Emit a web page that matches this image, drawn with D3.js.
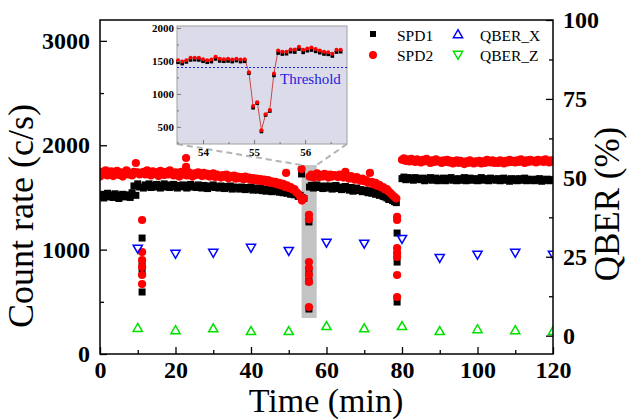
<!DOCTYPE html>
<html>
<head>
<meta charset="utf-8">
<script src="https://cdnjs.cloudflare.com/ajax/libs/d3/7.8.5/d3.min.js"></script>
<style>
  body { margin: 0; background: #fff; }
  svg text { font-family: "Liberation Serif", "Times New Roman", Times, "DejaVu Serif", "Noto Serif", serif !important; }
</style>
</head>
<body>
<script>
// count rate bands, sampled every half minute, one array per run segment
var bandStep = 0.5
var segStart = [0, 11.5, 55.5, 80]

var spd1Seg0 = [1510, 1530, 1495, 1520, 1540, 1505, 1525, 1500, 1535, 1515,
  1490, 1520, 1530, 1505, 1515, 1525, 1500, 1545, 1610, 1520, 1630, 1600]
var spd2Seg0 = [1700, 1745, 1720, 1760, 1710, 1735, 1750, 1705, 1730, 1755,
  1715, 1740, 1700, 1725, 1760, 1720, 1735, 1710, 1745, 1830, 1740, 1720]

var spd1Seg1 = [1590, 1620, 1605, 1630, 1595, 1615, 1600, 1625, 1610, 1590,
  1615, 1630, 1600, 1620, 1595, 1610, 1625, 1605, 1590, 1615,
  1605, 1620, 1600, 1590, 1615, 1625, 1600, 1610, 1595, 1620,
  1600, 1590, 1615, 1605, 1585, 1610, 1600, 1620, 1595, 1605,
  1590, 1610, 1600, 1585, 1605, 1595, 1610, 1580, 1600, 1590,
  1595, 1580, 1600, 1590, 1575, 1595, 1585, 1600, 1570, 1590,
  1580, 1570, 1590, 1565, 1580, 1560, 1575, 1585, 1555, 1570,
  1560, 1575, 1550, 1565, 1545, 1560, 1540, 1550, 1530, 1545,
  1525, 1535, 1510, 1520, 1500, 1490]
var spd2Seg1 = [1745, 1720, 1760, 1735, 1710, 1750, 1725, 1740, 1705, 1755,
  1730, 1715, 1745, 1720, 1760, 1735, 1710, 1740, 1725, 1700,
  1745, 1720, 1735, 1710, 1740, 1725, 1700, 1730, 1715, 1740,
  1720, 1705, 1735, 1710, 1725, 1700, 1715, 1730, 1695, 1720,
  1705, 1690, 1715, 1700, 1720, 1685, 1705, 1695, 1710, 1680,
  1700, 1685, 1695, 1675, 1700, 1680, 1690, 1670, 1685, 1665,
  1680, 1660, 1675, 1655, 1670, 1650, 1665, 1640, 1655, 1635,
  1650, 1625, 1640, 1615, 1630, 1600, 1615, 1590, 1600, 1575,
  1580, 1550, 1535, 1510, 1470, 1490]

var spd1Seg2 = [1600, 1615, 1590, 1610, 1620, 1595, 1605, 1585, 1610, 1600,
  1590, 1610, 1580, 1600, 1615, 1585, 1600, 1575, 1595, 1605,
  1585, 1570, 1595, 1560, 1580, 1590, 1565, 1575, 1555, 1570,
  1560, 1545, 1565, 1540, 1555, 1530, 1545, 1520, 1535, 1510,
  1505, 1495, 1480, 1490, 1470, 1460, 1450]
var spd2Seg2 = [1700, 1720, 1690, 1710, 1730, 1695, 1715, 1700, 1725, 1705,
  1690, 1720, 1700, 1715, 1710, 1695, 1720, 1700, 1690, 1745,
  1695, 1680, 1705, 1685, 1670, 1695, 1675, 1660, 1680, 1655,
  1665, 1640, 1735, 1650, 1625, 1640, 1610, 1620, 1595, 1600,
  1575, 1580, 1555, 1540, 1520, 1505, 1490]

var spd1Seg3 = [1680, 1695, 1670, 1690, 1675, 1685, 1665, 1690, 1675, 1680,
  1670, 1685, 1660, 1680, 1670, 1690, 1665, 1675, 1685, 1660,
  1675, 1665, 1685, 1660, 1680, 1670, 1690, 1665, 1675, 1660,
  1680, 1665, 1670, 1690, 1660, 1675, 1685, 1665, 1670, 1680,
  1660, 1675, 1690, 1665, 1680, 1670, 1660, 1685, 1670, 1675,
  1665, 1680, 1660, 1675, 1685, 1665, 1670, 1655, 1680, 1665,
  1675, 1660, 1680, 1665, 1670, 1685, 1660, 1675, 1665, 1670,
  1660, 1675, 1665, 1680, 1655, 1670, 1665, 1675, 1660, 1670,
  1665]
var spd2Seg3 = [1860, 1875, 1850, 1865, 1845, 1870, 1855, 1840, 1865, 1850,
  1835, 1860, 1845, 1870, 1850, 1830, 1855, 1840, 1865, 1845,
  1850, 1830, 1855, 1840, 1860, 1835, 1850, 1825, 1845, 1855,
  1830, 1850, 1835, 1820, 1845, 1830, 1855, 1840, 1825, 1845,
  1835, 1850, 1825, 1845, 1830, 1860, 1840, 1835, 1855, 1830,
  1845, 1830, 1855, 1840, 1825, 1850, 1835, 1860, 1840, 1850,
  1835, 1855, 1840, 1865, 1845, 1830, 1855, 1840, 1860, 1845,
  1850, 1835, 1860, 1845, 1855, 1840, 1865, 1850, 1835, 1855,
  1845]

// the three interruptions
var dropTime = [11.15, 55.35, 78.7]
var spd1Drops = [[1111, 872, 800, 594], [1265, 785, 700, 431], [1159, 881, 498]]
var spd2Drops = [[1284, 977, 900, 834, 757, 670], [1332, 1290, 881, 824, 757, 690, 450],
  [1313, 1284, 1015, 968, 930, 757, 546]]

// stray points [time, rate]
var spd1Extra = [[53.4, 1725]]
var spd2Extra = [[22.8, 1878], [22.8, 1792], [49.3, 1735], [53.4, 1772]]

// QBER every 10 min
var qberTime = [10, 20, 30, 40, 50, 60, 70, 80, 90, 100, 110, 120]
var qberX = [27.8, 26.2, 26.5, 28.1, 27.1, 29.7, 29.4, 30.9, 24.9, 25.9, 26.5, 25.9]
var qberZ = [2.2, 1.5, 2.1, 1.2, 1.2, 2.8, 2.1, 2.8, 1.2, 1.8, 1.5, 1.2]

// inset: close-up of the 55 min drop
var insetStart = 53.51
var insetStep = 0.0817
var insetSpd2 = [1510, 1490, 1510, 1550, 1550, 1550, 1525, 1510, 1520, 1565,
  1535, 1525, 1535, 1520, 1535, 1520, 1525, 1330, 815, 875,
  450, 690, 755, 1310, 1660, 1640, 1640, 1675, 1675, 1715,
  1670, 1690, 1705, 1680, 1660, 1640, 1630, 1610, 1670, 1670]
var insetSpd1 = [1480, 1460, 1485, 1515, 1520, 1515, 1495, 1480, 1490, 1530,
  1500, 1495, 1500, 1490, 1505, 1490, 1495, 1315, 790, 860,
  430, 680, 740, 1280, 1620, 1605, 1610, 1640, 1635, 1680,
  1630, 1655, 1665, 1645, 1625, 1605, 1600, 1575, 1635, 1640]
var threshold = 1400
var zoomT = [53.4, 57.4]
var zoomV = [345, 1810]

var SERIF = '"Liberation Serif", "Times New Roman", Times, "DejaVu Serif", serif'
var W = 628, H = 419
var svg = d3.select('body').append('svg').attr('width', W).attr('height', H)
  .style('font-family', SERIF)

var x = d3.scaleLinear().domain([0, 120]).range([100, 553])
var yL = d3.scaleLinear().domain([0, 3200]).range([354, 20])
var yR = d3.scaleLinear().domain([-5.8, 100]).range([354, 20])

function band(seg, vals) {
  return vals.map(function (v, i) { return { t: segStart[seg] + i * bandStep, v: v } })
}
function drops(vals) {
  var out = []
  vals.forEach(function (arr, k) { arr.forEach(function (v) { out.push({ t: dropTime[k], v: v }) }) })
  return out
}
var spd1 = [].concat(band(0, spd1Seg0), band(1, spd1Seg1), band(2, spd1Seg2), band(3, spd1Seg3),
  drops(spd1Drops), spd1Extra.map(function (d) { return { t: d[0], v: d[1] } }))
var spd2 = [].concat(band(0, spd2Seg0), band(1, spd2Seg1), band(2, spd2Seg2), band(3, spd2Seg3),
  drops(spd2Drops), spd2Extra.map(function (d) { return { t: d[0], v: d[1] } }))

svg.append('clipPath').attr('id', 'plot-clip')
  .append('rect').attr('x', 100).attr('y', 20).attr('width', 453).attr('height', 334)

// grey window marking the zoomed region
svg.append('rect')
  .attr('x', x(zoomT[0])).attr('y', yL(zoomV[1]))
  .attr('width', x(zoomT[1]) - x(zoomT[0])).attr('height', yL(zoomV[0]) - yL(zoomV[1]))
  .attr('fill', '#c3c3c3')

var g = svg.append('g').attr('clip-path', 'url(#plot-clip)')

g.selectAll('rect.spd1').data(spd1).enter().append('rect')
  .attr('class', 'spd1')
  .attr('x', function (d) { return x(d.t) - 3.5 })
  .attr('y', function (d) { return yL(d.v) - 3.5 })
  .attr('width', 7).attr('height', 7)
  .attr('fill', '#000')

g.selectAll('circle.spd2').data(spd2).enter().append('circle')
  .attr('class', 'spd2')
  .attr('cx', function (d) { return x(d.t) })
  .attr('cy', function (d) { return yL(d.v) })
  .attr('r', 4.1)
  .attr('fill', '#ff0000')

var triUp = 'M0,-5.3L4.6,2.7L-4.6,2.7Z'
var triDown = 'M0,5.3L4.6,-2.7L-4.6,-2.7Z'

g.selectAll('path.qx').data(qberX).enter().append('path')
  .attr('class', 'qx')
  .attr('d', triDown)
  .attr('transform', function (d, i) { return 'translate(' + x(qberTime[i]) + ',' + yR(d) + ')' })
  .attr('fill', 'none').attr('stroke', '#0000ff').attr('stroke-width', 1.5)

g.selectAll('path.qz').data(qberZ).enter().append('path')
  .attr('class', 'qz')
  .attr('d', triUp)
  .attr('transform', function (d, i) { return 'translate(' + x(qberTime[i]) + ',' + yR(d) + ')' })
  .attr('fill', 'none').attr('stroke', '#00e000').attr('stroke-width', 1.5)

// axes
function styleAxis(sel, size) {
  sel.attr('font-family', null).attr('font-size', null)
  sel.select('.domain').remove()
  sel.selectAll('line').attr('stroke', '#000').attr('stroke-width', 1.3)
  sel.selectAll('text').attr('font-size', size).attr('font-weight', 'bold')
    .style('font-family', SERIF).attr('fill', '#000')
}
var fmt = d3.format('d')

svg.append('g').attr('transform', 'translate(0,354)')
  .call(d3.axisBottom(x).tickValues(d3.range(0, 121, 20)).tickFormat(fmt).tickSizeInner(-7).tickSizeOuter(0).tickPadding(7))
  .call(styleAxis, 24)
svg.append('g').attr('transform', 'translate(0,354)')
  .call(d3.axisBottom(x).tickValues(d3.range(10, 120, 20)).tickSizeInner(-4).tickSizeOuter(0).tickFormat(''))
  .call(styleAxis, 24)

svg.append('g').attr('transform', 'translate(100,0)')
  .call(d3.axisLeft(yL).tickValues([0, 1000, 2000, 3000]).tickFormat(fmt).tickSizeInner(-7).tickSizeOuter(0).tickPadding(10))
  .call(styleAxis, 24)
svg.append('g').attr('transform', 'translate(100,0)')
  .call(d3.axisLeft(yL).tickValues([500, 1500, 2500]).tickSizeInner(-4).tickSizeOuter(0).tickFormat(''))
  .call(styleAxis, 24)

svg.append('g').attr('transform', 'translate(553,0)')
  .call(d3.axisRight(yR).tickValues([0, 25, 50, 75, 100]).tickFormat(fmt).tickSizeInner(-7).tickSizeOuter(0).tickPadding(10))
  .call(styleAxis, 24)
svg.append('g').attr('transform', 'translate(553,0)')
  .call(d3.axisRight(yR).tickValues([12.5, 37.5, 62.5, 87.5]).tickSizeInner(-4).tickSizeOuter(0).tickFormat(''))
  .call(styleAxis, 24)

svg.append('rect').attr('x', 100).attr('y', 20).attr('width', 453).attr('height', 334)
  .attr('fill', 'none').attr('stroke', '#000').attr('stroke-width', 1.5)

svg.append('text').attr('x', 326).attr('y', 412).attr('text-anchor', 'middle')
  .attr('font-size', 34).text('Time (min)')
svg.append('text').attr('transform', 'translate(33,216) rotate(-90)').attr('text-anchor', 'middle')
  .attr('font-size', 36).text('Count rate (c/s)')
svg.append('text').attr('transform', 'translate(619,204) rotate(-90)').attr('text-anchor', 'middle')
  .attr('font-size', 35).text('QBER (%)')

// legend
var legend = svg.append('g')
legend.append('rect').attr('x', 370).attr('y', 31).attr('width', 6).attr('height', 6).attr('fill', '#000')
legend.append('circle').attr('cx', 373).attr('cy', 55).attr('r', 4).attr('fill', '#ff0000')
legend.append('path').attr('d', triUp).attr('transform', 'translate(458,35)')
  .attr('fill', 'none').attr('stroke', '#0000ff').attr('stroke-width', 1.5)
legend.append('path').attr('d', triDown).attr('transform', 'translate(458,54)')
  .attr('fill', 'none').attr('stroke', '#00e000').attr('stroke-width', 1.5)
var legendLabels = [['SPD1', 397, 41], ['SPD2', 397, 61], ['QBER_X', 480, 41], ['QBER_Z', 480, 61]]
legend.selectAll('text').data(legendLabels).enter().append('text')
  .attr('x', function (d) { return d[1] }).attr('y', function (d) { return d[2] })
  .attr('font-size', 15.5).text(function (d) { return d[0] })

// inset
var xi = d3.scaleLinear().domain([53.49, 56.82]).range([177, 347])
var yi = d3.scaleLinear().domain([240, 2030]).range([144, 26])

// dashed guides from inset to the grey window
svg.append('line').attr('x1', 177).attr('y1', 144).attr('x2', x(zoomT[0])).attr('y2', yL(zoomV[1]))
  .attr('stroke', '#b4b4b4').attr('stroke-width', 2).attr('stroke-dasharray', '6,4')
svg.append('line').attr('x1', 347).attr('y1', 144).attr('x2', x(zoomT[1])).attr('y2', yL(zoomV[1]))
  .attr('stroke', '#b4b4b4').attr('stroke-width', 2).attr('stroke-dasharray', '6,4')

svg.append('rect').attr('x', 177).attr('y', 26).attr('width', 170).attr('height', 118)
  .attr('fill', '#dcdbea').attr('stroke', '#a0a0a0').attr('stroke-width', 1)

var insetA = insetSpd1.map(function (v, i) { return { t: insetStart + i * insetStep, v: v } })
var insetB = insetSpd2.map(function (v, i) { return { t: insetStart + i * insetStep, v: v } })

svg.append('line').attr('x1', 177).attr('x2', 347).attr('y1', yi(threshold)).attr('y2', yi(threshold))
  .attr('stroke', '#2020ee').attr('stroke-width', 1).attr('stroke-dasharray', '2,2')
svg.append('text').attr('x', 280).attr('y', 84).attr('font-size', 15).attr('fill', '#2222dd').text('Threshold')

var line = d3.line().x(function (d) { return xi(d.t) }).y(function (d) { return yi(d.v) })
svg.append('path').datum(insetB).attr('d', line).attr('fill', 'none')
  .attr('stroke', '#c84848').attr('stroke-width', 1)
svg.selectAll('rect.ia').data(insetA).enter().append('rect').attr('class', 'ia')
  .attr('x', function (d) { return xi(d.t) - 1.8 }).attr('y', function (d) { return yi(d.v) - 1.8 })
  .attr('width', 3.6).attr('height', 3.6).attr('fill', '#000')
svg.selectAll('circle.ib').data(insetB).enter().append('circle').attr('class', 'ib')
  .attr('cx', function (d) { return xi(d.t) }).attr('cy', function (d) { return yi(d.v) })
  .attr('r', 2).attr('fill', '#ff0000')

function styleInset(sel) {
  sel.attr('font-family', null).attr('font-size', null)
  sel.select('.domain').remove()
  sel.selectAll('line').attr('stroke', '#777').attr('stroke-width', 1)
  sel.selectAll('text').attr('font-size', 11).attr('font-weight', 'bold')
    .style('font-family', SERIF).attr('fill', '#000')
}
svg.append('g').attr('transform', 'translate(177,0)')
  .call(d3.axisLeft(yi).tickValues([500, 1000, 1500, 2000]).tickFormat(fmt).tickSizeInner(-4).tickSizeOuter(0).tickPadding(3))
  .call(styleInset)
svg.append('g').attr('transform', 'translate(177,0)')
  .call(d3.axisLeft(yi).tickValues([750, 1250, 1750]).tickSizeInner(-2).tickSizeOuter(0).tickFormat(''))
  .call(styleInset)
svg.append('g').attr('transform', 'translate(0,144)')
  .call(d3.axisBottom(xi).tickValues([54, 55, 56]).tickFormat(fmt).tickSizeInner(-4).tickSizeOuter(0).tickPadding(4))
  .call(styleInset)
svg.append('g').attr('transform', 'translate(0,144)')
  .call(d3.axisBottom(xi).tickValues([53.5, 54.5, 55.5, 56.5]).tickSizeInner(-2).tickSizeOuter(0).tickFormat(''))
  .call(styleInset)
</script>
</body>
</html>
